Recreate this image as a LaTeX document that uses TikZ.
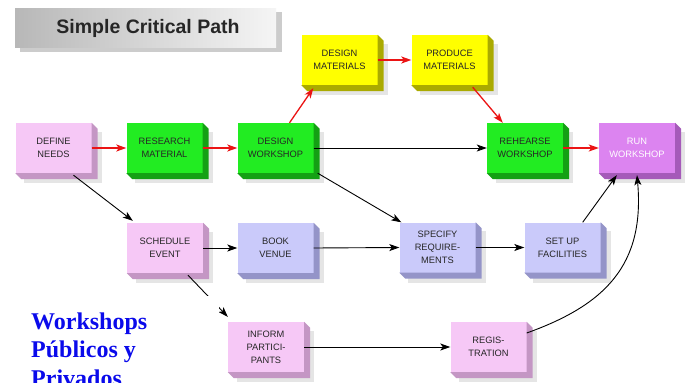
\documentclass[tikz,border=0pt]{standalone}
\usepackage{fontspec}
\setmainfont{Liberation Serif}
\newfontfamily\cpsans{Liberation Sans}
\usetikzlibrary{calc,arrows.meta}
\pgfdeclarelayer{bg}
\pgfsetlayers{bg,main}
\definecolor{pinkF}{RGB}{246,200,246}
\definecolor{pinkS}{RGB}{196,150,196}
\definecolor{greenF}{RGB}{34,236,34}
\definecolor{greenS}{RGB}{20,160,20}
\definecolor{yellowF}{RGB}{255,255,0}
\definecolor{yellowS}{RGB}{170,170,0}
\definecolor{violetF}{RGB}{220,132,240}
\definecolor{violetS}{RGB}{165,90,185}
\definecolor{lavF}{RGB}{202,202,250}
\definecolor{lavS}{RGB}{148,148,200}
\definecolor{wsblue}{RGB}{10,10,235}
\definecolor{redline}{RGB}{235,20,20}
\tikzset{
  cpnode/.style={minimum width=76pt, minimum height=50pt, inner sep=1pt, align=center,
    text=black!85, font=\cpsans\fontsize{9.3}{12.8}\selectfont},
  redarr/.style={draw=redline, line width=1.3pt, -{Stealth[length=10pt,width=7pt,inset=2.5pt]}},
  blkarr/.style={draw=black, line width=0.9pt, -{Stealth[length=10pt,width=7pt,inset=2.5pt]}},
  wsfont/.style={font=\bfseries\fontsize{24}{28}\selectfont, inner sep=0pt, anchor=base west},
}
\newcommand\cpbox[6][]{%
  \node[cpnode, fill=#4, #1] (#2) at #3 {#6};
  \fill[#5] (#2.north east) -- ++(6,6) -- ($(#2.south east)+(6,6)$) -- ($(#2.south west)+(6,6)$)
     -- (#2.south west) -- (#2.south east) -- cycle;
  \begin{pgfonlayer}{bg}
    \fill[black!10] ($(#2.north west)+(9,9)$) rectangle ($(#2.south east)+(10,10)$);
  \end{pgfonlayer}
}
\begin{document}
\begin{tikzpicture}[x=1pt,y=-1pt]
\useasboundingbox (0,0) rectangle (686,383);
\begin{pgfonlayer}{bg}
\fill[white] (0,0) rectangle (686,383);
\end{pgfonlayer}

% title
\fill[black!20] (20,12) rectangle (282,52);
\shade[left color=black!28, right color=black!4] (15,8) rectangle (276,47);
\node[font=\cpsans\bfseries\fontsize{19.5}{21}\selectfont, text=black!85] (title) at (148,28) {Simple Critical Path};

% boxes
\cpbox{define}{(53.5,148)}{pinkF}{pinkS}{DEFINE\\NEEDS}
\cpbox{research}{(164.5,148)}{greenF}{greenS}{RESEARCH\\MATERIAL}
\cpbox{dwork}{(275.5,148)}{greenF}{greenS}{DESIGN\\WORKSHOP}
\cpbox{dmat}{(339.5,60)}{yellowF}{yellowS}{DESIGN\\MATERIALS}
\cpbox{pmat}{(449.5,60)}{yellowF}{yellowS}{PRODUCE\\MATERIALS}
\cpbox{rehearse}{(525,148)}{greenF}{greenS}{REHEARSE\\WORKSHOP}
\cpbox[text=white]{run}{(637,148)}{violetF}{violetS}{RUN\\WORKSHOP}
\cpbox{sched}{(165,248)}{pinkF}{pinkS}{SCHEDULE\\EVENT}
\cpbox{book}{(275.5,248)}{lavF}{lavS}{BOOK\\VENUE}
\cpbox{spec}{(437.5,247.5)}{lavF}{lavS}{SPECIFY\\REQUIRE-\\MENTS}
\cpbox{setup}{(562.5,247.5)}{lavF}{lavS}{SET UP\\FACILITIES}
\cpbox{inform}{(266,347)}{pinkF}{pinkS}{INFORM\\PARTICI-\\PANTS}
\cpbox{reg}{(488.5,347)}{pinkF}{pinkS}{REGIS-\\TRATION}

% connectors
\draw[redarr] (define.east) -- (research.west);
\draw[redarr] (research.east) -- (dwork.west);
\draw[redarr] ($(dwork.north)+(14,0)$) -- ($(dmat.south west)+(12,3)$);
\draw[redarr] (dmat.east) -- (pmat.west);
\draw[redarr] ($(pmat.south east)+(-15,2)$) -- ($(rehearse.north west)+(16,0)$);
\draw[blkarr] (dwork.east) -- (rehearse.west);
\draw[redarr] (rehearse.east) -- (run.west);
\draw[blkarr] ($(define.south)+(20,2)$) -- ($(sched.north west)+(6,-2)$);
\draw[blkarr] ($(dwork.south east)+(4,0)$) -- ($(spec.north west)+(2,0)$);
\draw[blkarr] (sched.east) -- (book.west);
\draw[blkarr] (book.east) -- (spec.west);
\draw[blkarr] (spec.east) -- (setup.west);
\draw[blkarr] ($(setup.north east)+(-18,0)$) -- ($(run.south west)+(18,2)$);
\draw[blkarr] ($(sched.south)+(23,2)$) -- ($(inform.north west)+(0,-5)$);
\draw[blkarr] (inform.east) -- (reg.west);
\draw[blkarr] ($(reg.east)+(0,-14)$) .. controls (605,305) and (645,265) .. ($(run.south)+(0,2)$);

% caption
\fill[white] (0,296) rectangle (219,383);
\node[wsfont, text=wsblue] (wsA) at (31,329) {Workshops};
\node[wsfont, text=wsblue] (wsB) at (31,357.5) {Públicos y};
\node[wsfont, text=wsblue] (wsC) at (31,386) {Privados};
\end{tikzpicture}
\end{document}
